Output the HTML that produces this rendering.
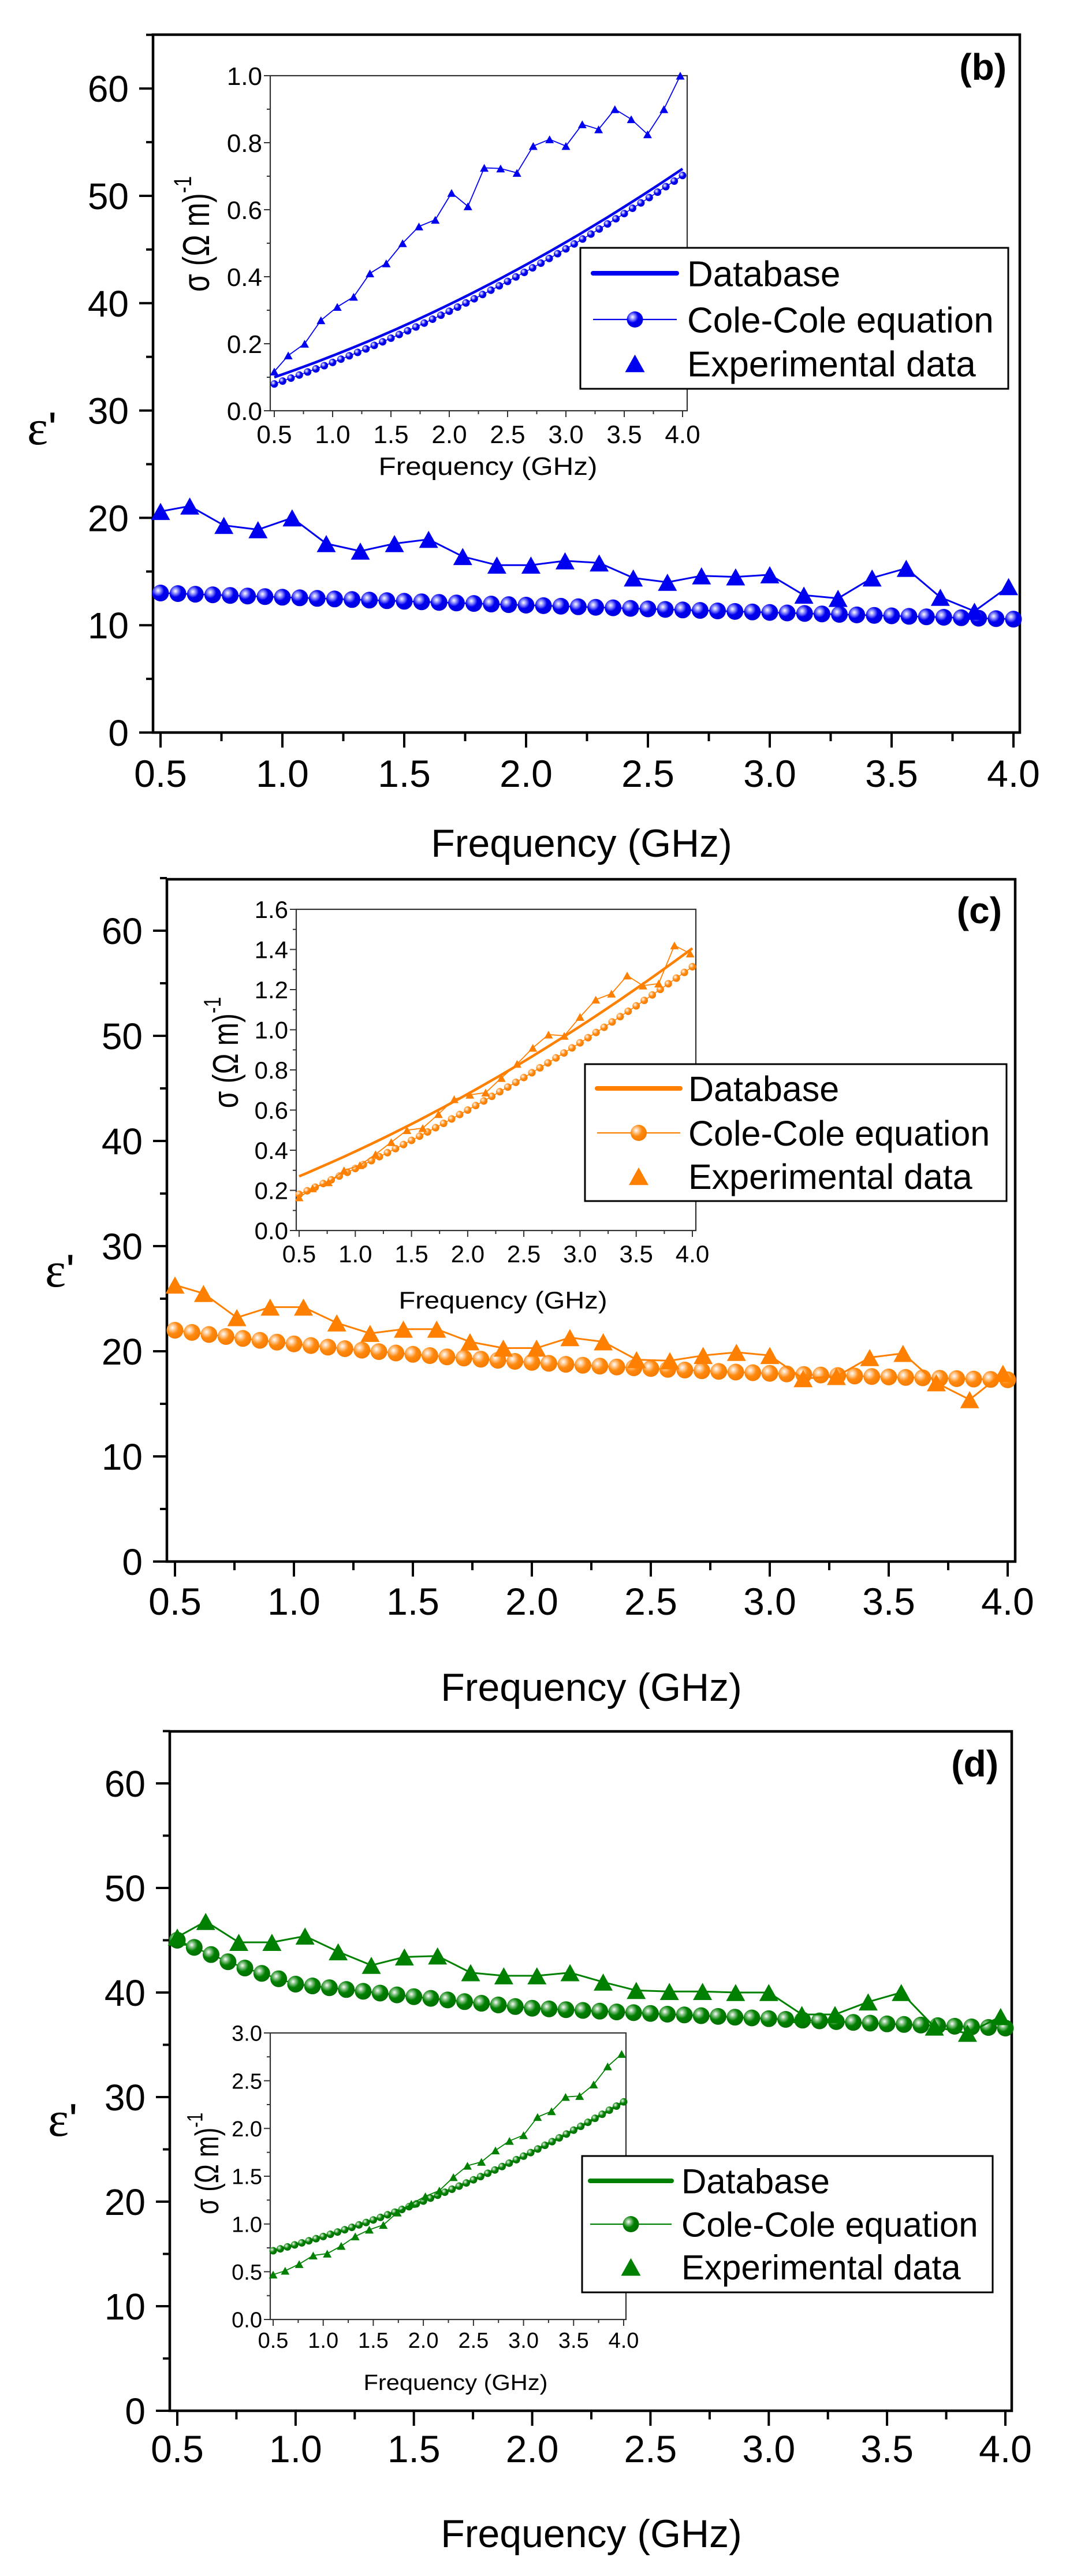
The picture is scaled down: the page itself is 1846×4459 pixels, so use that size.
<!DOCTYPE html>
<html><head><meta charset="utf-8">
<style>
html,body{margin:0;padding:0;background:#fff;}
svg{display:block;}
text{font-family:"Liberation Sans",Arial,sans-serif;fill:#000;}
</style></head>
<body>
<svg id="s" xmlns="http://www.w3.org/2000/svg" width="1846" height="4459" viewBox="0 0 1846 4459">
<defs>
<radialGradient id="gb" cx="0.35" cy="0.35" r="0.65"><stop offset="0" stop-color="#fff"/><stop offset="0.25" stop-color="#8c8cff"/><stop offset="0.55" stop-color="#0000f0"/><stop offset="1" stop-color="#0000e0"/></radialGradient>
<radialGradient id="go" cx="0.35" cy="0.35" r="0.65"><stop offset="0" stop-color="#fff"/><stop offset="0.25" stop-color="#ffc890"/><stop offset="0.55" stop-color="#ff8a10"/><stop offset="1" stop-color="#f57c00"/></radialGradient>
<radialGradient id="gg" cx="0.35" cy="0.35" r="0.65"><stop offset="0" stop-color="#fff"/><stop offset="0.25" stop-color="#7fbf7f"/><stop offset="0.55" stop-color="#008000"/><stop offset="1" stop-color="#007000"/></radialGradient>
</defs>
<g id="root"></g>
</svg>
<script>
(function(){
var out=[];
function P(s){out.push(s);}
function tri(x,y,s,c){var h=s*0.9;P('<polygon points="'+(x-s/2).toFixed(1)+','+(y+h/2).toFixed(1)+' '+(x+s/2).toFixed(1)+','+(y+h/2).toFixed(1)+' '+x.toFixed(1)+','+(y-h/2).toFixed(1)+'" fill="'+c+'"/>');}
function circ(x,y,r,g){P('<circle cx="'+x.toFixed(1)+'" cy="'+y.toFixed(1)+'" r="'+r+'" fill="url(#'+g+')"/>');}
function line(x1,y1,x2,y2,w,c){P('<line x1="'+x1.toFixed(1)+'" y1="'+y1.toFixed(1)+'" x2="'+x2.toFixed(1)+'" y2="'+y2.toFixed(1)+'" stroke="'+c+'" stroke-width="'+w+'"/>');}
function poly(pts,w,c){P('<polyline fill="none" stroke="'+c+'" stroke-width="'+w+'" stroke-linejoin="round" points="'+pts.map(function(p){return p[0].toFixed(1)+','+p[1].toFixed(1);}).join(' ')+'"/>');}
function txt(x,y,s,fs,anchor,extra){P('<text x="'+x.toFixed(1)+'" y="'+y.toFixed(1)+'" font-size="'+fs+'" text-anchor="'+(anchor||'start')+'" '+(extra||'')+'>'+s+'</text>');}
var expF=[0.5];for(var k=0;k<25;k++)expF.push(0.62+0.14*k);
function interp(tab,f){for(var i=0;i<tab.length-1;i++){if(f<=tab[i+1][0]){var t=(f-tab[i][0])/(tab[i+1][0]-tab[i][0]);return tab[i][1]+t*(tab[i+1][1]-tab[i][1]);}}return tab[tab.length-1][1];}
var dTab=[[0.5,45],[0.75,42.6],[1.0,40.8],[1.5,39.6],[2.0,38.5],[2.5,38.0],[3.0,37.5],[3.5,37.0],[4.0,36.6]];
var panels=[
{L:265,R:1766,T:60,B:1268,x05:278,x40:1755,y0:1268,p10:185.8,col:'#0000f0',g:'gb',lab:'(b)',labY:138,epsX:47,epsY:769,tickY:1362,titleX:1007,titleY:1483,
 cole:function(f){var d=f-0.5;return 13.0-0.8*d+0.03*d*d;},
 exp:[20.6,21.1,19.3,18.9,20.0,17.6,16.9,17.6,18.0,16.4,15.6,15.6,16.0,15.8,14.4,14.0,14.6,14.5,14.7,12.8,12.5,14.4,15.3,12.6,11.3,13.6],
 ins:{L:468,R:1190,T:131,B:711,x05:475,x40:1182,ymax:1.0,maj:0.2,min:0.1,dec:1,fs:44,labY:767,titleX:845,titleY:822,titleW:379,ytX:362,ytY:405,
  db:function(f){var d=f-0.5;return 0.1+0.12*d+0.0165*d*d;},cc:function(f){var d=f-0.5;return 0.08+0.12*d+0.0165*d*d;},
  exp:[0.117,0.165,0.20,0.27,0.31,0.34,0.41,0.44,0.50,0.55,0.57,0.65,0.61,0.725,0.723,0.71,0.79,0.81,0.79,0.855,0.84,0.90,0.87,0.825,0.90,1.0]},
 leg:{L:1005,T:429,R:1746,B:673,ys:[473,553,629],lx1:1027,lx2:1172,tx:1190,fs:62}},
{L:289,R:1758,T:1522,B:2703,x05:303,x40:1745,y0:2703,p10:182,col:'#ff8000',g:'go',lab:'(c)',labY:1598,epsX:78,epsY:2227,tickY:2795,titleX:1024,titleY:2944,
 cole:function(f){return 16.4+5.6*Math.exp(-(f-0.5)/1.9);},
 exp:[26.3,25.5,23.2,24.2,24.2,22.7,21.7,22.1,22.1,20.9,20.3,20.3,21.3,20.9,19.2,19.1,19.6,19.9,19.6,17.4,17.6,19.4,19.8,17.0,15.4,17.9],
 ins:{L:513,R:1205,T:1574,B:2130,x05:518,x40:1199,ymax:1.6,maj:0.2,min:0.1,dec:1,fs:42,labY:2185,titleX:871,titleY:2265,titleW:361,ytX:412,ytY:1822,
  db:function(f){var d=f-0.5;return 0.27+0.2349*d+0.0256*d*d;},cc:function(f){var d=f-0.5;return 0.18+0.247*d+0.022*d*d;},
  exp:[0.165,0.21,0.24,0.30,0.325,0.38,0.44,0.50,0.51,0.58,0.654,0.676,0.687,0.76,0.83,0.91,0.976,0.97,1.064,1.15,1.18,1.27,1.22,1.23,1.42,1.38]},
 leg:{L:1013,T:1842,R:1743,B:2079,ys:[1884,1961,2036],lx1:1034,lx2:1178,tx:1192,fs:61}},
{L:294,R:1752,T:2997,B:4173,x05:307,x40:1741,y0:4173,p10:181,col:'#008000',g:'gg',lab:'(d)',labY:3075,epsX:83,epsY:3697,tickY:4262,titleX:1024,titleY:4409,
 cole:function(f){return interp(dTab,f);},
 exp:[45.3,46.8,44.8,44.8,45.4,43.9,42.6,43.4,43.5,41.9,41.6,41.6,41.9,41.0,40.2,40.1,40.1,40.0,40.0,37.9,37.9,39.1,40.0,36.7,36.1,37.7],
 ins:{L:468,R:1084,T:3519,B:4015,x05:473,x40:1080,ymax:3.0,maj:0.5,min:0.25,dec:1,fs:38,labY:4064,titleX:789,titleY:4137,titleW:319,ytX:378,ytY:3745,
  db:function(f){var d=f-0.5;return 0.72+0.2727*d+0.0493*d*d;},cc:function(f){var d=f-0.5;return 0.72+0.2727*d+0.0493*d*d;},
  exp:[0.47,0.51,0.58,0.67,0.69,0.77,0.87,0.94,0.99,1.12,1.21,1.29,1.35,1.49,1.61,1.65,1.77,1.87,1.93,2.12,2.18,2.33,2.34,2.46,2.65,2.78]},
 leg:{L:1008,T:3732,R:1719,B:3968,ys:[3775,3850,3924],lx1:1022,lx2:1163,tx:1180,fs:60}}
];
panels.forEach(function(p){
 function X(f){return p.x05+(f-0.5)*(p.x40-p.x05)/3.5;}
 function Y(v){return p.y0-v*p.p10/10;}
 var c=p.col;
 // frame
 P('<rect x="'+p.L+'" y="'+p.T+'" width="'+(p.R-p.L)+'" height="'+(p.B-p.T)+'" fill="none" stroke="#000" stroke-width="4.5"/>');
 // y ticks
 for(var v=0;v<=65;v+=5){var y=Y(v);var major=(v%10==0);line(p.L-(major?24:12),y,p.L,y,4,'#000');
  if(major)txt(p.L-42,y+23,String(v),64,'end');}
 // x ticks
 for(var i=0;i<=14;i++){var f=0.5+i*0.25;var x=X(f);var major=(i%2==0);line(x,p.B,x,p.B+(major?26:15),4,'#000');
  if(major)txt(x,p.tickY,f.toFixed(1),66,'middle');}
 txt(p.titleX,p.titleY,'Frequency (GHz)',68,'middle');
 P('<text x="'+p.epsX+'" y="'+p.epsY+'" font-size="86" style="font-family:\'Liberation Serif\',serif">ε<tspan style="font-family:\'Liberation Sans\',sans-serif" font-size="80">\'</tspan></text>');
 txt(p.R-23,p.labY,p.lab,64,'end','font-weight="bold"');
 // main cole
 var cp=[];for(var j=0;j<50;j++){var f=0.5+3.5*j/49;cp.push([X(f),Y(p.cole(f))]);}
 poly(cp,2.5,c);
 cp.forEach(function(q){circ(q[0],q[1],14.5,p.g);});
 var ep=p.exp.map(function(v,j){return [X(expF[j]),Y(v)];});
 poly(ep,3,c);
 ep.forEach(function(q){tri(q[0],q[1],33,c);});
 // inset
 var n=p.ins;
 function IX(f){return n.x05+(f-0.5)*(n.x40-n.x05)/3.5;}
 function IY(v){return n.B-v*(n.B-n.T)/n.ymax;}
 P('<rect x="'+n.L+'" y="'+n.T+'" width="'+(n.R-n.L)+'" height="'+(n.B-n.T)+'" fill="none" stroke="#333" stroke-width="2.2"/>');
 var steps=Math.round(n.ymax/n.min);
 for(var i=0;i<=steps;i++){var v=i*n.min;var y=IY(v);var major=(i%Math.round(n.maj/n.min)==0);line(n.L-(major?11:6),y,n.L,y,2,'#333');
  if(major)txt(n.L-14,y+n.fs*0.36,v.toFixed(1),n.fs,'end');}
 for(var i=0;i<=14;i++){var f=0.5+i*0.25;var x=IX(f);var major=(i%2==0);line(x,n.B,x,n.B+(major?11:6),2,'#333');
  if(major)txt(x,n.labY,f.toFixed(1),n.fs,'middle');}
 P('<text x="'+n.titleX+'" y="'+n.titleY+'" font-size="'+(n.fs)+'" text-anchor="middle" textLength="'+n.titleW+'" lengthAdjust="spacingAndGlyphs">Frequency (GHz)</text>');
 P('<text transform="translate('+n.ytX+','+n.ytY+') rotate(-90) scale(1,1.3)" font-size="'+(n.fs+6)+'" text-anchor="middle">σ (Ω m)<tspan dy="-'+(n.fs*0.55).toFixed(0)+'" font-size="'+(n.fs*0.75).toFixed(0)+'">-1</tspan></text>');
 var dbp=[];for(var j=0;j<=60;j++){var f=0.5+3.5*j/60;dbp.push([IX(f),IY(n.db(f))]);}
 poly(dbp,4.5,c);
 var ccp=[];for(var j=0;j<50;j++){var f=0.5+3.5*j/49;ccp.push([IX(f),IY(n.cc(f))]);}
 poly(ccp,1.5,c);
 ccp.forEach(function(q){circ(q[0],q[1],6.5,p.g);});
 var iep=n.exp.map(function(v,j){return [IX(expF[j]),IY(v)];});
 poly(iep,1.8,c);
 iep.forEach(function(q){tri(q[0],q[1],15,c);});
 // legend
 var l=p.leg;
 P('<rect x="'+l.L+'" y="'+l.T+'" width="'+(l.R-l.L)+'" height="'+(l.B-l.T)+'" fill="#fff" stroke="#000" stroke-width="3"/>');
 var mx=(l.lx1+l.lx2)/2;
 P('<line x1="'+l.lx1+'" y1="'+l.ys[0]+'" x2="'+l.lx2+'" y2="'+l.ys[0]+'" stroke="'+c+'" stroke-width="8" stroke-linecap="round"/>');
 line(l.lx1,l.ys[1],l.lx2,l.ys[1],2.2,c);
 circ(mx,l.ys[1],14,p.g);
 tri(mx,l.ys[2],34,c);
 txt(l.tx,l.ys[0]+l.fs*0.36,'Database',l.fs);
 txt(l.tx,l.ys[1]+l.fs*0.36,'Cole-Cole equation',l.fs);
 txt(l.tx,l.ys[2]+l.fs*0.36,'Experimental data',l.fs);
});
document.getElementById('root').innerHTML=out.join('');
})();
</script>
</body></html>
